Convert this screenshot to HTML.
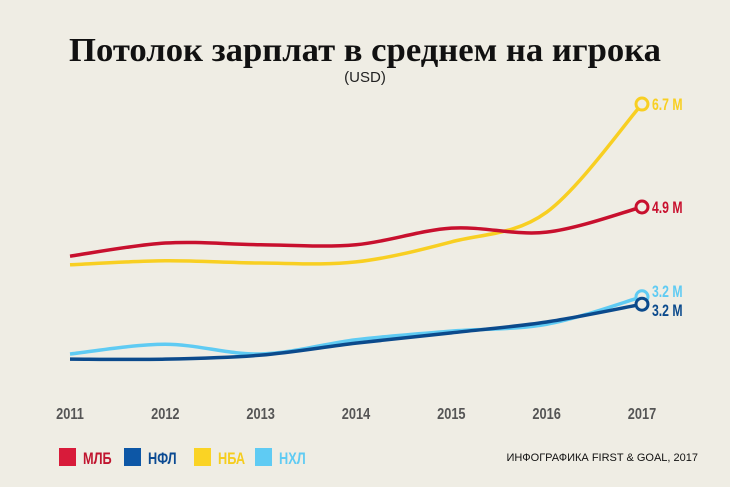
<!DOCTYPE html>
<html><head><meta charset="utf-8"><style>
body{margin:0;background:#efede4;}
svg{display:block;font-family:"Liberation Sans",sans-serif;}
</style></head><body>
<svg width="730" height="487" viewBox="0 0 730 487">
<rect width="730" height="487" fill="#efede4"/>
<text x="365" y="61" text-anchor="middle" font-size="34" font-weight="bold" fill="#111" font-family="'Liberation Serif',serif" textLength="592" lengthAdjust="spacingAndGlyphs">Потолок зарплат в среднем на игрока</text>
<text x="365" y="82" text-anchor="middle" font-size="15" fill="#222">(USD)</text>
<g id="xaxis"></g>
<g id="series"></g>
<g>
<rect x="59" y="448" width="17" height="18" fill="#d81b3a"/>
<text x="83" y="464" font-size="17" font-weight="bold" fill="#c0152f" transform="translate(83,0) scale(0.75,1) translate(-83,0)">МЛБ</text>
<rect x="124" y="448" width="17" height="18" fill="#0d57a6"/>
<text x="148" y="464" font-size="17" font-weight="bold" fill="#0b4a92" transform="translate(148,0) scale(0.75,1) translate(-148,0)">НФЛ</text>
<rect x="194" y="448" width="17" height="18" fill="#fad324"/>
<text x="218" y="464" font-size="17" font-weight="bold" fill="#f5cd1e" transform="translate(218,0) scale(0.75,1) translate(-218,0)">НБА</text>
<rect x="255" y="448" width="17" height="18" fill="#5fcbf3"/>
<text x="279" y="464" font-size="17" font-weight="bold" fill="#5fcbf3" transform="translate(279,0) scale(0.75,1) translate(-279,0)">НХЛ</text>
</g>
<text x="698" y="461" text-anchor="end" font-size="11" fill="#111">ИНФОГРАФИКА FIRST &amp; GOAL, 2017</text>
</svg>
<script>
const years=[2011,2012,2013,2014,2015,2016,2017];
const mlb=[4.04,4.27,4.24,4.24,4.53,4.46,4.9];
const nfl=[2.24,2.24,2.31,2.52,2.70,2.89,3.2];
const nba=[3.89,3.96,3.92,3.94,4.29,4.81,6.7];
const nhl=[2.33,2.50,2.33,2.58,2.73,2.85,3.33];
const endLabels=["4.9 M","3.2 M","6.7 M","3.2 M"];
const NS="http://www.w3.org/2000/svg";
function xs(y){return 70+(y-2011)*95.33;}
function ys(v){return 207-(v-4.9)*57.2;}
const xa=document.getElementById('xaxis');
years.forEach(y=>{const t=document.createElementNS(NS,'text');
t.setAttribute('x',xs(y));t.setAttribute('y',419);t.setAttribute('text-anchor','middle');
t.setAttribute('font-size','16');t.setAttribute('font-weight','bold');t.setAttribute('fill','#555');
t.setAttribute('transform',`translate(${xs(y)},0) scale(0.8,1) translate(${-xs(y)},0)`);


t.textContent=y;xa.appendChild(t);});
function path(vals){const p=vals.map((v,i)=>[xs(years[i]),ys(v)]);let d=`M${p[0][0]},${p[0][1]}`;
for(let i=0;i<p.length-1;i++){const p0=p[i-1]||p[i],p1=p[i],p2=p[i+1],p3=p[i+2]||p2;
const c1=[p1[0]+(p2[0]-p0[0])/6,p1[1]+(p2[1]-p0[1])/6],c2=[p2[0]-(p3[0]-p1[0])/6,p2[1]-(p3[1]-p1[1])/6];
d+=` C${c1[0]},${c1[1]} ${c2[0]},${c2[1]} ${p2[0]},${p2[1]}`;}return d;}
const sg=document.getElementById('series');
const defs=[[nhl,'#5fcbf3','nhl',-6],[nba,'#f8cf22','nba',0],[mlb,'#c8102e','mlb',0],[nfl,'#0b4a8c','nfl',6]];
const labIdx={mlb:0,nfl:1,nba:2,nhl:3};
defs.forEach(([vals,c,n,dy])=>{const pe=document.createElementNS(NS,'path');
pe.setAttribute('d',path(vals));pe.setAttribute('fill','none');pe.setAttribute('stroke',c);pe.setAttribute('stroke-width','3.5');


sg.appendChild(pe);
const last=vals[vals.length-1],cx=xs(years[years.length-1]),cy=ys(last);
const ci=document.createElementNS(NS,'circle');ci.setAttribute('cx',cx);ci.setAttribute('cy',cy);ci.setAttribute('r','6');
ci.setAttribute('fill','#efede4');ci.setAttribute('stroke',c);ci.setAttribute('stroke-width','3');


sg.appendChild(ci);
const t=document.createElementNS(NS,'text');const tx=cx+10;
t.setAttribute('x',tx);t.setAttribute('y',cy+6+dy);t.setAttribute('font-size','17');t.setAttribute('font-weight','bold');t.setAttribute('fill',c);
t.setAttribute('transform',`translate(${tx},0) scale(0.72,1) translate(${-tx},0)`);


t.textContent=endLabels[labIdx[n]];sg.appendChild(t);});
</script>
</body></html>
